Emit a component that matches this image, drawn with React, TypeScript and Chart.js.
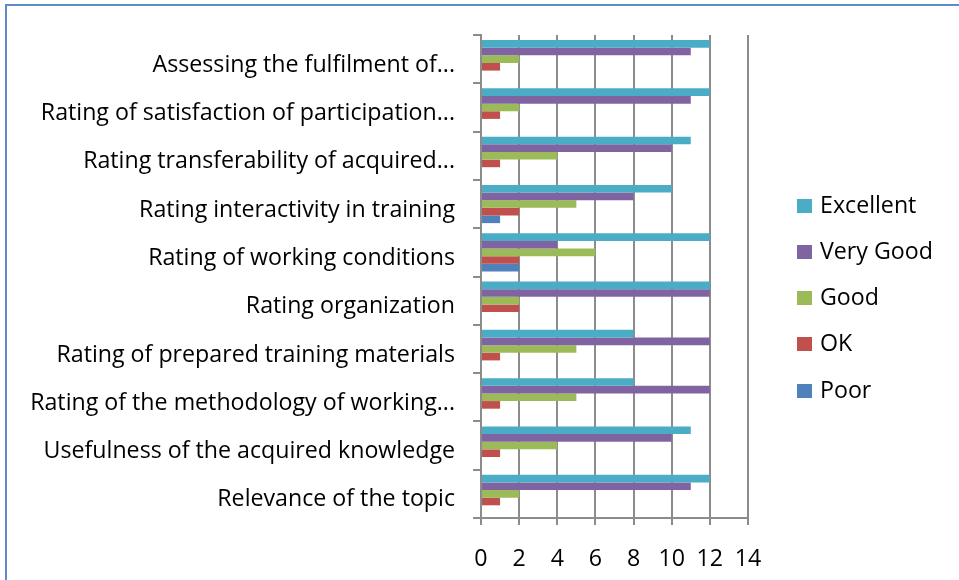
import React, { useEffect, useRef } from "react";
import { Chart, registerables } from "chart.js";

Chart.register(...registerables);

const categories = [
  "Assessing the fulfilment of...",
  "Rating of satisfaction of participation...",
  "Rating transferability of acquired...",
  "Rating interactivity in training",
  "Rating of working conditions",
  "Rating organization",
  "Rating of prepared training materials",
  "Rating of the methodology of working...",
  "Usefulness of the acquired knowledge",
  "Relevance of the topic",
];

const excellent = [12, 12, 11, 10, 12, 12, 8, 8, 11, 12];
const veryGood = [11, 11, 10, 8, 4, 12, 12, 12, 10, 11];
const good = [2, 2, 4, 5, 6, 2, 5, 5, 4, 2];
const ok = [1, 1, 1, 2, 2, 2, 1, 1, 1, 1];
const poor = [0, 0, 0, 1, 2, 0, 0, 0, 0, 0];

const seriesNames = ["Excellent", "Very Good", "Good", "OK", "Poor"];
const seriesColors = ["#4BACC6", "#8064A2", "#9BBB59", "#C0504D", "#4F81BD"];
const xTicks = [0, 2, 4, 6, 8, 10, 12, 14];

const FONT = "'Open Sans', 'Noto Sans', sans-serif";
const FSIZE = 23.2;
const GRID = "#8c8c8c";

export default function App() {
  const ref = useRef<HTMLCanvasElement>(null);

  useEffect(() => {
    if (!ref.current) return;
    const values = [excellent, veryGood, good, ok, poor];

    const legendPlugin = {
      id: "customLegend",
      afterDraw(chart: any) {
        const ctx = chart.ctx;
        ctx.save();
        ctx.font = `${FSIZE}px ${FONT}`;
        ctx.textBaseline = "middle";
        ctx.textAlign = "left";
        const ys = [205, 251, 297, 343, 390];
        seriesNames.forEach((n, i) => {
          ctx.fillStyle = seriesColors[i];
          ctx.fillRect(797, ys[i] - 6, 15, 14);
          ctx.fillStyle = "#000";
          ctx.fillText(n, 820, ys[i] + 1);
        });
        ctx.restore();
      },
    };

    const chart = new Chart(ref.current, {
      type: "bar",
      data: {
        labels: categories,
        datasets: values.map((v, i) => ({
          label: seriesNames[i],
          data: v,
          backgroundColor: seriesColors[i],
          borderWidth: 0,
          categoryPercentage: 0.79,
          barPercentage: 1,
        })),
      },
      options: {
        indexAxis: "y",
        responsive: false,
        animation: false,
        layout: { padding: { top: 35, right: 211, left: 0, bottom: 0 } },
        plugins: {
          legend: { display: false },
          tooltip: { enabled: false },
        },
        scales: {
          x: {
            min: 0,
            max: 14,
            afterBuildTicks: (scale: any) => {
              scale.ticks = xTicks.map((v) => ({ value: v }));
            },
            afterFit: (scale: any) => {
              scale.height = 62;
            },
            ticks: {
              color: "#000",
              font: { family: FONT, size: FSIZE },
              padding: 20,
            },
            grid: { color: GRID, lineWidth: 2, tickLength: 7 },
            border: { color: GRID, width: 2 },
          },
          y: {
            afterFit: (scale: any) => {
              scale.width = 481;
            },
            ticks: {
              color: "#000",
              font: { family: FONT, size: FSIZE },
              padding: 18,
              labelOffset: 6,
            },
            grid: { drawOnChartArea: false, color: GRID, lineWidth: 2, tickLength: 8 },
            border: { color: GRID, width: 2 },
          },
        },
      },
      plugins: [legendPlugin],
    });
    return () => chart.destroy();
  }, []);

  return (
    <div style={{ position: "fixed", left: 0, top: 0, width: 959, height: 580, background: "#fff" }}>
      <div
        style={{
          position: "absolute",
          left: 5,
          top: 4,
          right: 0,
          bottom: 0,
          borderTop: "2px solid #5B8BC9",
          borderLeft: "2px solid #5B8BC9",
        }}
      />
      <canvas ref={ref} width={959} height={580} style={{ position: "absolute", left: 0, top: 0 }} />
    </div>
  );
}
